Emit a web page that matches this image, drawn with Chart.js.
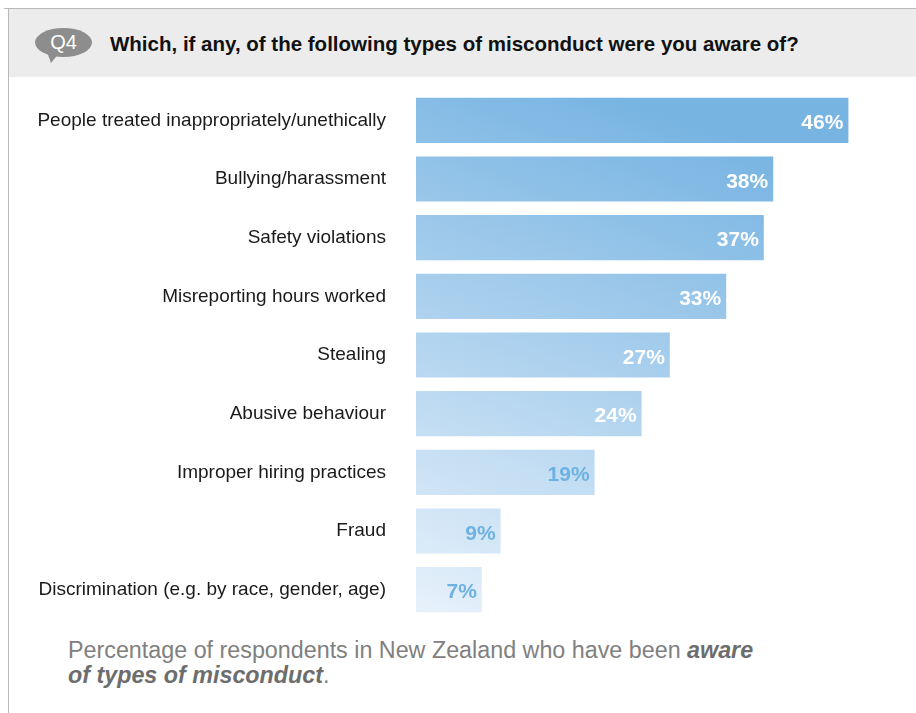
<!DOCTYPE html>
<html>
<head>
<meta charset="utf-8">
<script src="https://cdn.jsdelivr.net/npm/chart.js@4.4.1/dist/chart.umd.min.js"></script>
<style>
  html, body { margin: 0; padding: 0; background: #fff; }
  #wrap { position: relative; width: 916px; height: 713px; overflow: hidden; font-family: 'Liberation Sans', Arial, sans-serif; }
  .frame-top { position: absolute; left: 4px; top: 8px; width: 912px; height: 1px; background: #b9b9b9; }
  .frame-left { position: absolute; left: 8px; top: 8px; width: 1px; height: 705px; background: #b9b9b9; }
  .header { position: absolute; left: 9px; top: 9px; width: 907px; height: 68px; background: #ececec; }
  .bubble { position: absolute; left: 35px; top: 28px; width: 57px; height: 29px; border-radius: 50%; background: #8d8d8d;
            color: #fff; font-size: 20px; line-height: 29px; text-align: center; }
  .tail { position: absolute; left: 47px; top: 52px; width: 0; height: 0;
          border-left: 4px solid transparent; border-right: 9px solid transparent; border-top: 11px solid #8d8d8d; }
  .title { position: absolute; left: 110px; top: 32px; font-weight: bold; font-size: 20.5px; color: #111; }
  .caption { position: absolute; left: 68px; top: 638px; font-size: 23.3px; line-height: 25px; color: #808080; }
  .caption b { color: #6d6d6d; font-style: italic; }
  #misconductChart { position: absolute; left: 0; top: 85px; }
</style>
</head>
<body>
<div id="wrap">
  <div class="header"></div>
  <div class="frame-top"></div>
  <div class="frame-left"></div>
  <div class="bubble">Q4</div>
  <div class="tail"></div>
  <div class="title">Which, if any, of the following types of misconduct were you aware of?</div>
  <canvas id="misconductChart" width="916" height="545"></canvas>
  <div class="caption">Percentage of respondents in New Zealand who have been <b>aware<br>of types of misconduct</b>.</div>
</div>
<script>
/* ---------- Data ---------- */
const categories = [
  'People treated inappropriately/unethically',
  'Bullying/harassment',
  'Safety violations',
  'Misreporting hours worked',
  'Stealing',
  'Abusive behaviour',
  'Improper hiring practices',
  'Fraud',
  'Discrimination (e.g. by race, gender, age)'
];
const awarePct = [46, 38, 37, 33, 27, 24, 19, 9, 7];
const darkLabelCount = 6; // first bars get white labels, the rest blue

/* ---------- Bar gradient (dark blue top -> pale blue bottom) ---------- */
function barGradient(ctx) {
  const chart = ctx.chart;
  const area = chart.chartArea;
  if (!area) return '#9fcaeb';
  const g = chart.ctx.createLinearGradient(area.left + 200, area.top, area.left, area.bottom);
  g.addColorStop(0, '#77b4e2');
  g.addColorStop(0.45, '#a9cfed');
  g.addColorStop(1, '#e8f2fb');
  return g;
}

/* ---------- Value labels inside bar ends ---------- */
const valueLabels = {
  id: 'valueLabels',
  afterDatasetsDraw(chart) {
    const c = chart.ctx;
    const meta = chart.getDatasetMeta(0);
    c.save();
    c.font = 'bold 21px "Liberation Sans", Arial, sans-serif';
    c.textAlign = 'right';
    c.textBaseline = 'middle';
    meta.data.forEach((bar, i) => {
      c.fillStyle = i < darkLabelCount ? '#ffffff' : '#6db2e1';
      c.fillText(awarePct[i] + '%', bar.x - 5, bar.y + 3);
    });
    c.restore();
  }
};

new Chart(document.getElementById('misconductChart'), {
  type: 'bar',
  data: {
    labels: categories,
    datasets: [{
      data: awarePct,
      backgroundColor: barGradient,
      borderWidth: 0,
      barPercentage: 0.77,
      categoryPercentage: 1.0
    }]
  },
  options: {
    indexAxis: 'y',
    responsive: false,
    animation: false,
    layout: { padding: { top: 6, bottom: 11, right: 30, left: 0 } },
    plugins: { legend: { display: false }, tooltip: { enabled: false } },
    scales: {
      x: { display: false, min: 0, max: 50 },
      y: {
        grid: { display: false, drawTicks: false },
        border: { display: false },
        // fixed label column, and no tick padding added above/below the bars
        afterFit: s => { s.width = 416; s.paddingTop = 0; s.paddingBottom = 0; },
        ticks: {
          color: '#1a1a1a',
          padding: 30,
          font: { size: 19, family: '"Liberation Sans", Arial, sans-serif' }
        }
      }
    }
  },
  plugins: [valueLabels]
});
</script>
</body>
</html>
